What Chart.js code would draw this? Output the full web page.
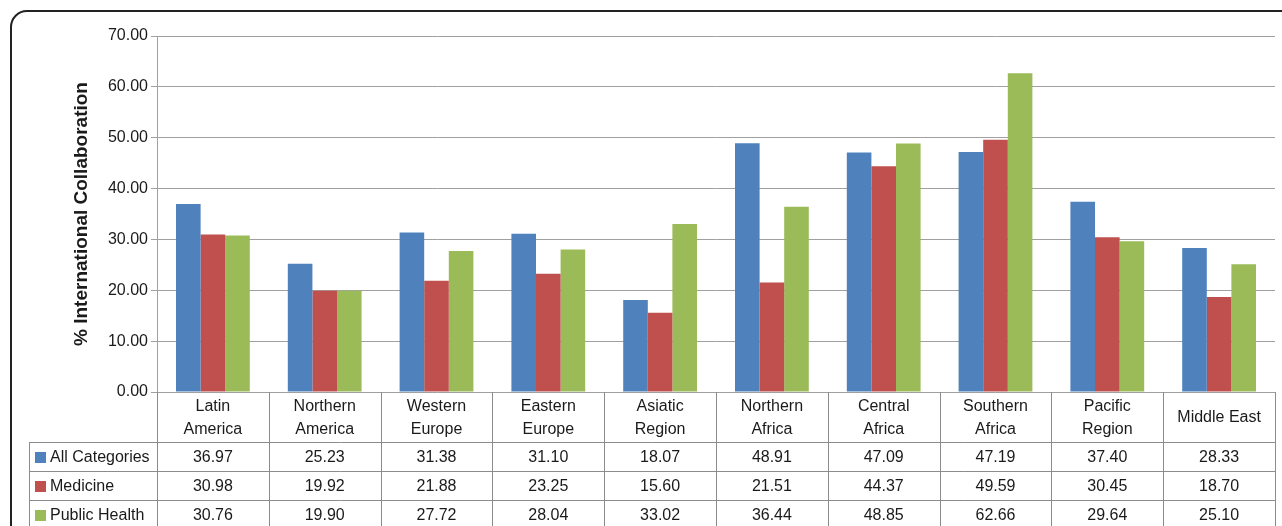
<!DOCTYPE html>
<html>
<head>
<meta charset="utf-8">
<script src="https://cdn.jsdelivr.net/npm/chart.js@4.4.1/dist/chart.umd.min.js"></script>
<style>
  html, body { margin: 0; padding: 0; background: #ffffff; }
  #wrap { position: relative; width: 1282px; height: 526px; overflow: hidden; }
</style>
</head>
<body>
<div id="wrap"><canvas id="c" width="1282" height="526"></canvas></div>
<script>
const categories = [
  ['Latin', 'America'], ['Northern', 'America'], ['Western', 'Europe'], ['Eastern', 'Europe'],
  ['Asiatic', 'Region'], ['Northern', 'Africa'], ['Central', 'Africa'], ['Southern', 'Africa'],
  ['Pacific', 'Region'], ['Middle East']
];
const seriesNames = ['All Categories', 'Medicine', 'Public Health'];
const allCategories = [36.97, 25.23, 31.38, 31.10, 18.07, 48.91, 47.09, 47.19, 37.40, 28.33];
const medicine      = [30.98, 19.92, 21.88, 23.25, 15.60, 21.51, 44.37, 49.59, 30.45, 18.70];
const publicHealth  = [30.76, 19.90, 27.72, 28.04, 33.02, 36.44, 48.85, 62.66, 29.64, 25.10];
const seriesColors = ['#4F81BD', '#C0504D', '#9BBB59'];
const yTicks = [0, 10, 20, 30, 40, 50, 60, 70];
const yTitle = '% International Collaboration';

const FONT = '"Liberation Sans", Arial, Helvetica, sans-serif';
const GRID = '#a0a0a0';
const TABLE_LINE = '#8c8c8c';
const PAD_LEFT = 70;

const tablePlugin = {
  id: 'dataTable',
  beforeDraw(chart) {
    const ctx = chart.ctx;
    ctx.save();
    ctx.fillStyle = '#ffffff';
    ctx.fillRect(0, 0, chart.width, chart.height);
    ctx.strokeStyle = '#222222';
    ctx.lineWidth = 2;
    const x0 = 11, y0 = 11, r = 16;
    ctx.beginPath();
    ctx.moveTo(x0, chart.height + 10);
    ctx.lineTo(x0, y0 + r);
    ctx.arcTo(x0, y0, x0 + r, y0, r);
    ctx.lineTo(chart.width + 10, y0);
    ctx.stroke();
    ctx.restore();
  },
  afterDraw(chart) {
    const ctx = chart.ctx;
    const xs = chart.scales.x;
    const area = chart.chartArea;
    const left = area.left, right = area.right;
    const n = categories.length;
    const colW = (right - left) / n;
    const top = area.bottom;
    const headerBottom = top + 50;
    const rowH = 29;
    const tableLeft = 29;
    const series = [allCategories, medicine, publicHealth];
    const a = v => Math.round(v) + 0.5;

    ctx.save();
    ctx.strokeStyle = TABLE_LINE;
    ctx.lineWidth = 1;
    ctx.beginPath();
    for (let k = 0; k <= n; k++) {
      const x = a(left + k * colW);
      ctx.moveTo(x, top);
      ctx.lineTo(x, chart.height + 5);
    }
    ctx.moveTo(a(tableLeft), headerBottom);
    ctx.lineTo(a(tableLeft), chart.height + 5);
    for (let r = 0; r <= series.length; r++) {
      const y = a(headerBottom + r * rowH);
      ctx.moveTo(tableLeft, y);
      ctx.lineTo(right + 0.5, y);
    }
    ctx.stroke();

    ctx.fillStyle = '#1a1a1a';
    ctx.font = '16px ' + FONT;
    ctx.textAlign = 'center';
    ctx.textBaseline = 'middle';
    categories.forEach((lab, i) => {
      const cx = xs.getPixelForValue(i);
      const lines = Array.isArray(lab) ? lab : [lab];
      const lh = 23;
      const cy = (top + headerBottom) / 2 + 1;
      lines.forEach((t, j) => {
        ctx.fillText(t, cx, cy + (j - (lines.length - 1) / 2) * lh);
      });
    });
    series.forEach((vals, r) => {
      const cy = headerBottom + r * rowH + rowH / 2 + 1;
      ctx.fillStyle = seriesColors[r];
      ctx.fillRect(35, Math.round(cy - 5.5), 11, 11);
      ctx.fillStyle = '#1a1a1a';
      ctx.textAlign = 'left';
      ctx.fillText(seriesNames[r], 50, cy);
      ctx.textAlign = 'center';
      vals.forEach((v, i) => {
        ctx.fillText(v.toFixed(2), xs.getPixelForValue(i), cy);
      });
    });
    ctx.restore();
  }
};

new Chart(document.getElementById('c'), {
  type: 'bar',
  data: {
    labels: categories,
    datasets: [
      { label: seriesNames[0], data: allCategories, backgroundColor: seriesColors[0] },
      { label: seriesNames[1], data: medicine, backgroundColor: seriesColors[1] },
      { label: seriesNames[2], data: publicHealth, backgroundColor: seriesColors[2] }
    ]
  },
  options: {
    responsive: false,
    animation: false,
    devicePixelRatio: 1,
    layout: { padding: { left: PAD_LEFT, top: 36, right: 7, bottom: 134 } },
    datasets: { bar: { categoryPercentage: 0.66, barPercentage: 1.0, borderWidth: 0 } },
    plugins: { legend: { display: false }, tooltip: { enabled: false }, title: { display: false } },
    scales: {
      x: { display: false, offset: true },
      y: {
        min: 0, max: 70,
        afterFit(scale) { scale.width = 157 - PAD_LEFT; },
        afterBuildTicks(scale) { scale.ticks = yTicks.map(v => ({ value: v })); },
        ticks: {
          padding: 3,
          color: '#1a1a1a',
          font: { family: FONT, size: 16 },
          callback: v => Number(v).toFixed(2)
        },
        grid: { color: GRID, lineWidth: 1, tickLength: 6, drawTicks: true },
        border: { display: true, color: GRID, width: 1 },
        title: {
          display: true,
          text: yTitle,
          color: '#1a1a1a',
          font: { family: FONT, size: 19, weight: 'bold' },
          padding: { top: 0, bottom: 0 }
        }
      }
    }
  },
  plugins: [tablePlugin]
});
</script>
</body>
</html>
